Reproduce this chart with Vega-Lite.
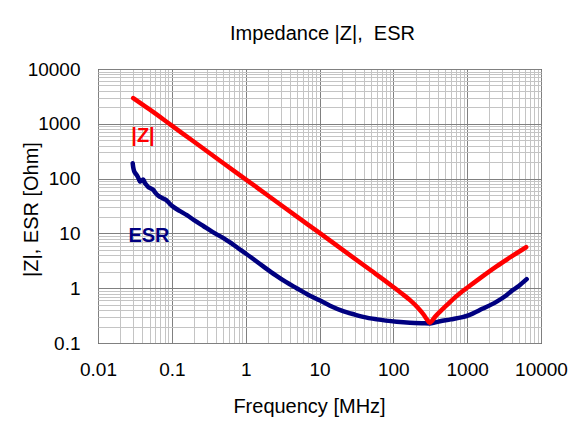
{
  "$schema": "https://vega.github.io/schema/vega-lite/v6.json",
  "width": 443,
  "height": 274,
  "autosize": {"type": "none"},
  "padding": {"left": 98, "top": 69, "right": 41, "bottom": 91},
  "background": "white",
  "title": {
    "text": "Impedance |Z|,\u00a0 ESR",
    "font": "Liberation Sans",
    "fontSize": 20,
    "fontWeight": "normal",
    "color": "black",
    "frame": "group",
    "anchor": "middle",
    "baseline": "alphabetic",
    "offset": 0,
    "dx": 3
  },
  "config": {
    "view": {"stroke": "black", "strokeWidth": 1},
    "axis": {
      "labelFont": "Liberation Sans",
      "labelFontSize": 19,
      "labelColor": "black",
      "labelFlush": false,
      "labelOverlap": false,
      "titleFont": "Liberation Sans",
      "titleFontSize": 20,
      "titleFontWeight": "normal",
      "titleColor": "black",
      "ticks": false,
      "tickSize": 0,
      "domain": false
    }
  },
  "datasets": {
    "z": [
      {"f": 0.03, "v": 2950},
      {"f": 0.05, "v": 1827},
      {"f": 0.1, "v": 926},
      {"f": 0.2, "v": 470},
      {"f": 0.5, "v": 191},
      {"f": 1, "v": 97},
      {"f": 2, "v": 49.2},
      {"f": 5, "v": 20.0},
      {"f": 10, "v": 10.2},
      {"f": 20, "v": 5.16},
      {"f": 50, "v": 2.1},
      {"f": 80, "v": 1.32},
      {"f": 100, "v": 1.05},
      {"f": 130, "v": 0.8},
      {"f": 170, "v": 0.6},
      {"f": 215, "v": 0.44},
      {"f": 255, "v": 0.335},
      {"f": 285, "v": 0.27},
      {"f": 310, "v": 0.233},
      {"f": 335, "v": 0.255},
      {"f": 370, "v": 0.305},
      {"f": 430, "v": 0.375},
      {"f": 520, "v": 0.48},
      {"f": 650, "v": 0.64},
      {"f": 800, "v": 0.81},
      {"f": 1000, "v": 1.02},
      {"f": 1500, "v": 1.53},
      {"f": 2500, "v": 2.5},
      {"f": 4000, "v": 3.8},
      {"f": 6300, "v": 5.6}
    ],
    "esr": [
      {"f": 0.0295, "v": 190},
      {"f": 0.0300, "v": 160},
      {"f": 0.0305, "v": 145},
      {"f": 0.031, "v": 135},
      {"f": 0.0325, "v": 122},
      {"f": 0.034, "v": 112},
      {"f": 0.0355, "v": 100},
      {"f": 0.037, "v": 88},
      {"f": 0.039, "v": 92},
      {"f": 0.041, "v": 96},
      {"f": 0.043, "v": 84},
      {"f": 0.0455, "v": 76},
      {"f": 0.048, "v": 70},
      {"f": 0.052, "v": 66},
      {"f": 0.056, "v": 62},
      {"f": 0.06, "v": 55},
      {"f": 0.065, "v": 49},
      {"f": 0.07, "v": 46},
      {"f": 0.075, "v": 44},
      {"f": 0.08, "v": 42},
      {"f": 0.085, "v": 40},
      {"f": 0.09, "v": 37},
      {"f": 0.095, "v": 34},
      {"f": 0.105, "v": 30.5},
      {"f": 0.12, "v": 27},
      {"f": 0.14, "v": 24},
      {"f": 0.16, "v": 21.5},
      {"f": 0.2, "v": 17.5},
      {"f": 0.27, "v": 13.5},
      {"f": 0.35, "v": 10.8},
      {"f": 0.4, "v": 9.7},
      {"f": 0.5, "v": 8.2},
      {"f": 0.6, "v": 7.0},
      {"f": 0.8, "v": 5.3},
      {"f": 1.0, "v": 4.3},
      {"f": 1.73, "v": 2.5},
      {"f": 2.5, "v": 1.75},
      {"f": 3.5, "v": 1.3},
      {"f": 4.9, "v": 1.0},
      {"f": 7, "v": 0.76},
      {"f": 10, "v": 0.6},
      {"f": 13.9, "v": 0.48},
      {"f": 20, "v": 0.39},
      {"f": 30, "v": 0.33},
      {"f": 39, "v": 0.3},
      {"f": 60, "v": 0.27},
      {"f": 111, "v": 0.245},
      {"f": 168, "v": 0.235},
      {"f": 250, "v": 0.23},
      {"f": 314, "v": 0.228},
      {"f": 429, "v": 0.25},
      {"f": 600, "v": 0.27},
      {"f": 1038, "v": 0.32},
      {"f": 1600, "v": 0.42},
      {"f": 2513, "v": 0.57},
      {"f": 3300, "v": 0.72},
      {"f": 4170, "v": 0.93},
      {"f": 5000, "v": 1.1},
      {"f": 6400, "v": 1.46}
    ],
    "labels": [
      {"f": 0.0407, "v": 598, "label": "|Z|", "series": "|Z|"},
      {"f": 0.049, "v": 9.0, "label": "ESR", "series": "ESR"}
    ]
  },
  "layer": [
    {
      "data": {"name": "z"},
      "mark": {"type": "line", "strokeOpacity": 0},
      "encoding": {
        "x": {
          "field": "f", "type": "quantitative",
          "scale": {"type": "log", "domain": [0.01, 10000]},
          "axis": {
            "orient": "bottom",
            "values": [0.02,0.03,0.04,0.05,0.06,0.07,0.08,0.09,0.2,0.3,0.4,0.5,0.6,0.7,0.8,0.9,2,3,4,5,6,7,8,9,20,30,40,50,60,70,80,90,200,300,400,500,600,700,800,900,2000,3000,4000,5000,6000,7000,8000,9000],
            "grid": true, "gridColor": "#c4c4c4", "gridWidth": 1,
            "labels": false, "title": null
          }
        },
        "y": {
          "field": "v", "type": "quantitative",
          "scale": {"type": "log", "domain": [0.1, 10000]},
          "axis": {
            "orient": "left",
            "values": [0.2,0.3,0.4,0.5,0.6,0.7,0.8,0.9,2,3,4,5,6,7,8,9,20,30,40,50,60,70,80,90,200,300,400,500,600,700,800,900,2000,3000,4000,5000,6000,7000,8000,9000],
            "grid": true, "gridColor": "#c4c4c4", "gridWidth": 1,
            "labels": false, "title": null
          }
        }
      }
    },
    {
      "data": {"name": "esr"},
      "mark": {"type": "line", "color": "#000080", "strokeWidth": 4.5, "strokeCap": "round", "strokeJoin": "round", "interpolate": "monotone"},
      "encoding": {
        "x": {
          "field": "f", "type": "quantitative",
          "scale": {"type": "log", "domain": [0.01, 10000]},
          "axis": {
            "orient": "bottom",
            "values": [0.01, 0.1, 1, 10, 100, 1000, 10000],
            "labelExpr": "'' + datum.value",
            "grid": true, "gridColor": "#808080", "gridWidth": 1,
            "labelPadding": 17,
            "title": "Frequency [MHz]",
            "titleX": 211,
            "titleY": 69,
            "titleBaseline": "alphabetic"
          }
        },
        "y": {
          "field": "v", "type": "quantitative",
          "scale": {"type": "log", "domain": [0.1, 10000]},
          "axis": {
            "orient": "left",
            "values": [0.1, 1, 10, 100, 1000, 10000],
            "labelExpr": "'' + datum.value",
            "grid": true, "gridColor": "#808080", "gridWidth": 1,
            "labelPadding": 18,
            "title": "|Z|, ESR [Ohm]",
            "titleX": -67,
            "titleY": 140,
            "titleAngle": 270,
            "titleBaseline": "middle",
            "titleAlign": "center"
          }
        }
      }
    },
    {
      "data": {"name": "z"},
      "mark": {"type": "line", "color": "#ff0000", "strokeWidth": 4.5, "strokeCap": "round", "strokeJoin": "round", "interpolate": "monotone"},
      "encoding": {
        "x": {"field": "f", "type": "quantitative", "scale": {"type": "log", "domain": [0.01, 10000]}, "axis": null},
        "y": {"field": "v", "type": "quantitative", "scale": {"type": "log", "domain": [0.1, 10000]}, "axis": null}
      }
    },
    {
      "data": {"name": "labels"},
      "mark": {"type": "text", "font": "Liberation Sans", "fontSize": 20, "fontWeight": "bold", "align": "center", "baseline": "middle"},
      "encoding": {
        "x": {"field": "f", "type": "quantitative", "scale": {"type": "log", "domain": [0.01, 10000]}, "axis": null},
        "y": {"field": "v", "type": "quantitative", "scale": {"type": "log", "domain": [0.1, 10000]}, "axis": null},
        "text": {"field": "label"},
        "color": {"field": "series", "type": "nominal", "scale": {"domain": ["|Z|", "ESR"], "range": ["#ff0000", "#000080"]}, "legend": null}
      }
    }
  ],
  "resolve": {"axis": {"x": "independent", "y": "independent"}}
}
